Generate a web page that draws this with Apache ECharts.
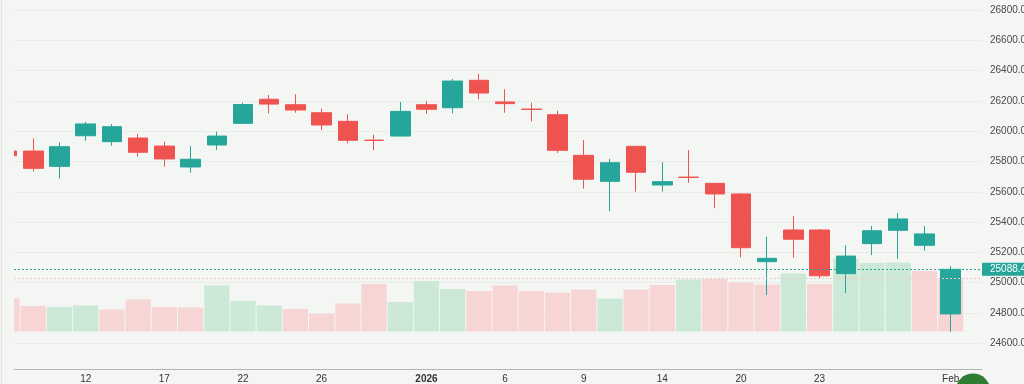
<!DOCTYPE html>
<html>
<head>
<meta charset="utf-8">
<script src="https://cdn.jsdelivr.net/npm/echarts@6/dist/echarts.min.js"></script>
<style>
html,body{margin:0;padding:0;background:#f4f6f4;}
#chart{width:1024px;height:384px;}
</style>
</head>
<body>
<div id="chart"></div>
<script>
// ---- data (NIFTY-style daily candles) ----
const dates = ['2025-12-09','2025-12-10','2025-12-11','2025-12-12','2025-12-15','2025-12-16','2025-12-17','2025-12-18','2025-12-19','2025-12-22','2025-12-23','2025-12-24','2025-12-26','2025-12-29','2025-12-30','2025-12-31','2026-01-01','2026-01-02','2026-01-05','2026-01-06','2026-01-07','2026-01-08','2026-01-09','2026-01-12','2026-01-13','2026-01-14','2026-01-16','2026-01-19','2026-01-20','2026-01-21','2026-01-22','2026-01-23','2026-01-27','2026-01-28','2026-01-29','2026-01-30','2026-02-01'];
const openP  = [25869,25869,25768,25970,25931,25955,25902,25764,25909,26052,26211,26175,26122,26065,25941,25968,26175,26155,26336,26193,26146,26109,25841,25669,25900,25645,25697,25656,25586,25139,25348,25348,25060,25258,25346,25247,24794];
const closeP = [25838,25755,25898,26048,26030,25861,25817,25815,25968,26176,26179,26140,26041,25940,25939,26131,26145,26331,26252,26182,26144,25874,25683,25792,25729,25667,25695,25586,25231,25161,25287,25046,25176,25343,25421,25322,25088.4];
const lowP   = [25830,25733,25689,25937,25904,25832,25766,25726,25876,26048,26118,26122,26008,25920,25876,25968,26114,26118,26211,26122,26065,25856,25621,25473,25601,25601,25660,25493,25168,24919,25165,25025,24932,25183,25157,25211,24677];
const highP  = [25875,25953,25927,26061,26048,25982,25931,25902,25997,26188,26239,26244,26149,26112,25977,26193,26199,26345,26378,26277,26188,26135,25942,25817,25904,25795,25876,25658,25590,25304,25440,25355,25247,25374,25460,25374,25110];
const volume = [330,255,245,260,220,320,245,240,460,305,260,225,175,280,475,295,505,425,405,460,405,390,420,330,420,465,520,525,490,470,580,475,730,685,690,605,535];
const tickIndex  = [3,6,9,12,16,19,22,25,28,31,36];
const tickLabels = ['12','17','22','26','2026','6','9','14','20','23','Feb'];
const boldTicks  = ['2026'];

// ---- styling ----
const BG = '#f4f6f4';
const UP = '#26a69a', DOWN = '#ef5350';
const VOL_UP = '#cce8d7', VOL_DOWN = '#f7d5d5';
const FONT = '"Liberation Sans", Arial, sans-serif';
const XMIN = 0.263, XMAX = 37.196;

const last = closeP.length - 1;
const candleData = dates.map((d, i) => [i, openP[i], closeP[i], lowP[i], highP[i]]);
const volData = volume.map((v, i) => {
  const up = i === 0 ? closeP[i] >= openP[i] : closeP[i] >= closeP[i - 1];
  return { value: [i, v], itemStyle: { color: up ? VOL_UP : VOL_DOWN } };
});

const chart = echarts.init(document.getElementById('chart'), null, { renderer: 'canvas' });
chart.setOption({
  animation: false,
  backgroundColor: BG,
  textStyle: { fontFamily: FONT },
  grid: [
    { left: 14, right: 42, top: 10, bottom: 40.67, containLabel: false, outerBoundsMode: 'none' },
    { left: 14, right: 42, top: 231.5, bottom: 52.5, containLabel: false, outerBoundsMode: 'none' }
  ],
  xAxis: [
    { type: 'value', gridIndex: 0, min: XMIN, max: XMAX, show: false },
    {
      type: 'value', gridIndex: 1, min: XMIN, max: XMAX, offset: 37.5,
      axisLine: { show: true, onZero: false, lineStyle: { color: '#b4b6b4', width: 1 } },
      axisTick: { show: false },
      splitLine: { show: false },
      axisLabel: {
        customValues: tickIndex,
        margin: 5,
        fontSize: 10,
        color: '#333',
        fontFamily: FONT,
        formatter: function (v) {
          const k = tickIndex.indexOf(Math.round(v));
          if (k < 0) return '';
          const t = tickLabels[k];
          return boldTicks.indexOf(t) >= 0 ? '{b|' + t + '}' : t;
        },
        rich: { b: { fontWeight: 'bold', fontSize: 10, color: '#333', fontFamily: FONT } }
      }
    }
  ],
  yAxis: [
    {
      type: 'value', gridIndex: 0, position: 'right', min: 24600, max: 26800, interval: 200,
      axisLine: { show: false }, axisTick: { show: false },
      splitLine: { show: true, lineStyle: { color: '#e8ebe8', width: 1 } },
      axisLabel: { margin: 8, fontSize: 10, color: '#4a4a4a', fontFamily: FONT,
        formatter: v => v.toFixed(2) }
    },
    { type: 'value', gridIndex: 1, min: 0, max: 1000, show: false }
  ],
  series: [
    {
      type: 'bar', xAxisIndex: 1, yAxisIndex: 1, data: volData, barWidth: 25.2, z: 2,
      markLine: {
        silent: true, symbol: ['none', 'none'], animation: false,
        lineStyle: { color: '#f0c9c9', type: [2, 2], width: 1 },
        label: { show: false },
        data: [{ yAxis: volume[last] }]
      }
    },
    {
      type: 'candlestick', xAxisIndex: 0, yAxisIndex: 0, data: candleData, barWidth: 20, z: 3,
      itemStyle: { color: UP, color0: DOWN, borderColor: UP, borderColor0: DOWN, borderWidth: 1 },
      markLine: {
        silent: true, symbol: ['none', 'none'], animation: false,
        lineStyle: { color: UP, type: [2, 2], width: 1 },
        label: {
          show: true, position: 'end', distance: 0,
          formatter: closeP[last].toFixed(2),
          backgroundColor: UP, color: '#ffffff', padding: [2, 8, 1, 8],
          fontSize: 10, fontFamily: FONT
        },
        data: [{ yAxis: closeP[last] }]
      }
    }
  ],
  graphic: [
    { type: 'rect', shape: { x: 0, y: 0, width: 14, height: 384 }, style: { fill: BG }, z: 100 },
    { type: 'line', shape: { x1: 1.5, y1: 0, x2: 1.5, y2: 384 }, style: { stroke: '#e1e4e1', lineWidth: 1 }, z: 101 },
    { type: 'circle', shape: { cx: 973, cy: 391, r: 17.5 }, style: { fill: '#2e7d32' }, z: 101 }
  ]
});
</script>
</body>
</html>
